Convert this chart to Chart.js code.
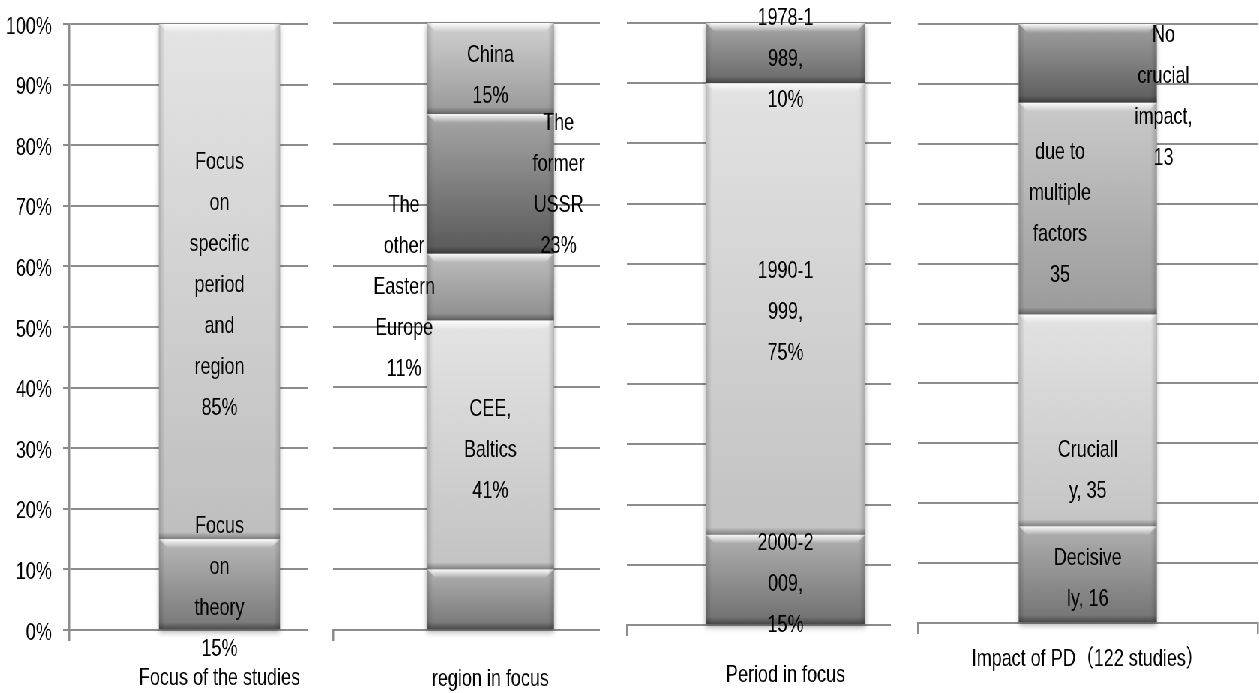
<!DOCTYPE html>
<html>
<head>
<meta charset="utf-8">
<script src="https://cdn.jsdelivr.net/npm/chart.js@4.4.1/dist/chart.umd.min.js"></script>
<style>
  body { margin: 0; background: #fff; overflow: hidden; }
  /* the source picture has tall, narrow lettering: draw wide, then squeeze horizontally */
  #wrap { position: absolute; left: 0; top: 0; width: 1679px; height: 693px; overflow: hidden;
          transform: scaleX(0.75); transform-origin: 0 0; }
  #wrap canvas { position: absolute; top: 0; background: #fff; }
</style>
</head>
<body>
<div id="wrap">
  <canvas id="c1" width="496" height="693" style="left:0px"></canvas>
  <canvas id="c2" width="460" height="693" style="left:411px"></canvas>
  <canvas id="c3" width="467" height="693" style="left:800px"></canvas>
  <canvas id="c4" width="491" height="693" style="left:1188px"></canvas>
</div>
<script>
// --- data ---
const focusCategory = ['Focus of the studies'];
const focusSeries = ['Focus on theory', 'Focus on specific period and region'];
const focusValues = [15, 85];
const focusLabels = [['Focus', 'on', 'theory', '15%'], ['Focus', 'on', 'specific', 'period', 'and', 'region', '85%']];

const regionCategory = ['region in focus'];
const regionSeries = ['', 'CEE, Baltics', 'The other Eastern Europe', 'The former USSR', 'China'];
const regionValues = [10, 41, 11, 23, 15];
const regionLabels = [[], ['CEE,', 'Baltics', '41%'], ['The', 'other', 'Eastern', 'Europe', '11%'], ['The', 'former', 'USSR', '23%'], ['China', '15%']];

const periodCategory = ['Period in focus'];
const periodSeries = ['2000-2009', '1990-1999', '1978-1989'];
const periodValues = [15, 75, 10];
const periodLabels = [['2000-2', '009,', '15%'], ['1990-1', '999,', '75%'], ['1978-1', '989,', '10%']];

// numbers of studies, shown as a 100% stack
const impactCategory = ['Impact of PD（122 studies）'];
const impactSeries = ['Decisively', 'Crucially', 'due to multiple factors', 'No crucial impact'];
const impactValues = [16, 35, 35, 13];
const impactLabels = [['Decisive', 'ly, 16'], ['Cruciall', 'y, 35'], ['due to', 'multiple', 'factors', '35'], ['No', 'crucial', 'impact,', '13']];

// --- look ---
const FONT = "'Liberation Sans', 'Noto Sans CJK SC', sans-serif";
const FONT_SIZE = 24;
const LINE_H = 41;
const GRID = '#8c8c8c';

// horizontal sizes below are in the wide (unsqueezed) canvas units
const panels = [
  { id: 'c1', cat: focusCategory, series: focusSeries, values: focusValues, labels: focusLabels,
    colors: [['#b8b8b8', '#767676'], ['#e4e4e4', '#bebebe']],
    shift: [[0, 4], [0, 4]],
    pad: { left: 0, right: 3, top: 24, bottom: 0 }, axisH: 63, titlePad: 23, bar: 0.402, showY: true },
  { id: 'c2', cat: regionCategory, series: regionSeries, values: regionValues, labels: regionLabels,
    colors: [['#b0b0b0', '#747474'], ['#e4e4e4', '#c2c2c2'], ['#bdbdbd', '#8c8c8c'], ['#a6a6a6', '#585858'], ['#d0d0d0', '#989898']],
    shift: [[0, 0], [0, 6], [-115, 0], [91, 1], [0, 7]],
    pad: { left: 33, right: 7, top: 23, bottom: 0 }, axisH: 63, titlePad: 24, bar: 0.403, showY: false },
  { id: 'c3', cat: periodCategory, series: periodSeries, values: periodValues, labels: periodLabels,
    colors: [['#b0b0b0', '#6e6e6e'], ['#e2e2e2', '#c2c2c2'], ['#a6a6a6', '#686868']],
    shift: [[0, 5], [0, 3], [0, 6]],
    pad: { left: 36, right: 8, top: 23, bottom: 0 }, axisH: 68, titlePad: 25, bar: 0.502, showY: false },
  { id: 'c4', cat: impactCategory, series: impactSeries, values: impactValues, labels: impactLabels,
    colors: [['#b0b0b0', '#727272'], ['#e2e2e2', '#c4c4c4'], ['#cacaca', '#9a9a9a'], ['#a0a0a0', '#5c5c5c']],
    shift: [[0, 5], [0, 51], [-37, 5], [101, 34]],
    pad: { left: 36, right: 2, top: 24, bottom: 0 }, axisH: 70, titlePad: 11, bar: 0.406, showY: false }
];

// soft shadow under each stack
const shadowPlugin = {
  id: 'shadow',
  beforeDatasetsDraw(chart) {
    const els = chart.data.datasets.map((d, i) => chart.getDatasetMeta(i).data[0]);
    const x0 = els[0].x - els[0].width / 2, w = els[0].width;
    const top = Math.min(...els.map(e => e.y)), bot = Math.max(...els.map(e => e.base));
    const ctx = chart.ctx;
    ctx.save();
    ctx.shadowColor = 'rgba(0,0,0,0.35)';
    ctx.shadowBlur = 6;
    ctx.shadowOffsetY = 3;
    ctx.fillStyle = '#999';
    ctx.fillRect(x0, top, w, bot - top);
    ctx.restore();
  }
};

// bevel look on each segment
const bevelPlugin = {
  id: 'bevel',
  afterDatasetsDraw(chart) {
    const ctx = chart.ctx;
    chart.data.datasets.forEach((ds, i) => {
      const el = chart.getDatasetMeta(i).data[0];
      const x0 = el.x - el.width / 2, x1 = el.x + el.width / 2;
      const top = Math.min(el.y, el.base), bot = Math.max(el.y, el.base);
      const b = Math.min(9, (bot - top) / 3);
      ctx.save();
      let g = ctx.createLinearGradient(0, top, 0, top + b);
      g.addColorStop(0, 'rgba(255,255,255,0.95)');
      g.addColorStop(1, 'rgba(255,255,255,0)');
      ctx.fillStyle = g;
      ctx.beginPath();
      ctx.moveTo(x0, top); ctx.lineTo(x1, top); ctx.lineTo(x1 - b * 1.33, top + b); ctx.lineTo(x0 + b * 1.33, top + b);
      ctx.closePath();
      ctx.fill();
      g = ctx.createLinearGradient(0, bot, 0, bot - 7);
      g.addColorStop(0, 'rgba(0,0,0,0.35)');
      g.addColorStop(1, 'rgba(0,0,0,0)');
      ctx.fillStyle = g;
      ctx.fillRect(x0, bot - 7, x1 - x0, 7);
      g = ctx.createLinearGradient(x0, 0, x0 + 8, 0);
      g.addColorStop(0, 'rgba(0,0,0,0.18)');
      g.addColorStop(1, 'rgba(0,0,0,0)');
      ctx.fillStyle = g;
      ctx.fillRect(x0, top, 8, bot - top);
      g = ctx.createLinearGradient(x1, 0, x1 - 8, 0);
      g.addColorStop(0, 'rgba(0,0,0,0.18)');
      g.addColorStop(1, 'rgba(0,0,0,0)');
      ctx.fillStyle = g;
      ctx.fillRect(x1 - 8, top, 8, bot - top);
      ctx.restore();
    });
  }
};

// wrapped labels on the segments
function labelPlugin(p) {
  return {
    id: 'segLabels',
    afterDatasetsDraw(chart) {
      const ctx = chart.ctx;
      ctx.save();
      ctx.font = FONT_SIZE + 'px ' + FONT;
      ctx.fillStyle = '#000';
      ctx.textAlign = 'center';
      ctx.textBaseline = 'middle';
      chart.data.datasets.forEach((ds, i) => {
        const lines = p.labels[i];
        if (!lines.length) return;
        const el = chart.getDatasetMeta(i).data[0];
        const cx = el.x + p.shift[i][0];
        const cy = (el.y + el.base) / 2 + p.shift[i][1];
        const y0 = cy - (lines.length - 1) * LINE_H / 2;
        lines.forEach((t, k) => ctx.fillText(t, cx, y0 + k * LINE_H));
      });
      ctx.restore();
    }
  };
}

function makeChart(p) {
  const total = p.values.reduce((a, b) => a + b, 0);
  const pct = p.values.map(v => v / total * 100);
  const cum = [];
  let run = 0;
  pct.forEach(v => { cum.push([run, run + v]); run += v; });

  const datasets = p.series.map((name, i) => ({
    label: name,
    data: [pct[i]],
    backgroundColor: ctx => {
      const y = ctx.chart.scales.y;
      if (!ctx.chart.chartArea || !y) return p.colors[i][1];
      const g = ctx.chart.ctx.createLinearGradient(0, y.getPixelForValue(cum[i][1]), 0, y.getPixelForValue(cum[i][0]));
      g.addColorStop(0, p.colors[i][0]);
      g.addColorStop(1, p.colors[i][1]);
      return g;
    },
    borderWidth: 0,
    barPercentage: p.bar,
    categoryPercentage: 1
  }));

  return new Chart(document.getElementById(p.id), {
    type: 'bar',
    data: { labels: p.cat, datasets },
    options: {
      responsive: false,
      animation: false,
      layout: { padding: p.pad },
      plugins: { legend: { display: false }, tooltip: { enabled: false } },
      scales: {
        x: {
          stacked: true,
          grid: { drawOnChartArea: false, tickLength: 11, color: GRID, lineWidth: 2.5 },
          border: { display: true, color: GRID, width: 2 },
          ticks: { color: '#000', font: { family: FONT, size: FONT_SIZE }, padding: p.titlePad, maxRotation: 0, autoSkip: false },
          afterFit: s => { s.height = p.axisH; }
        },
        y: {
          stacked: true,
          min: 0,
          max: 100,
          grid: { color: GRID, lineWidth: 2, drawTicks: p.showY, tickLength: 8 },
          border: { display: p.showY, color: GRID, width: 2.5 },
          ticks: {
            display: p.showY,
            stepSize: 10,
            padding: 15,
            labelOffset: 3,
            color: '#000',
            font: { family: FONT, size: FONT_SIZE },
            callback: v => v + '%'
          },
          afterFit: s => {
            s.width = p.showY ? 92 : 0;
            s.paddingTop = 0;
            s.paddingBottom = 0;
          }
        }
      }
    },
    plugins: [shadowPlugin, bevelPlugin, labelPlugin(p)]
  });
}

panels.forEach(makeChart);
</script>
</body>
</html>
